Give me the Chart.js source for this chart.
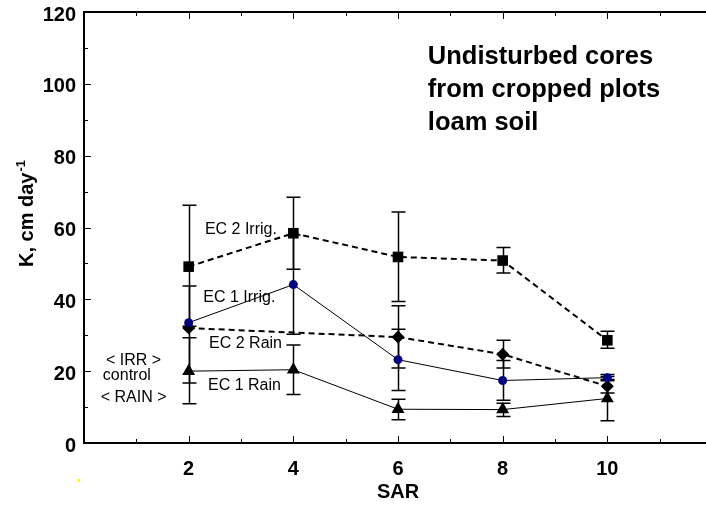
<!DOCTYPE html>
<html>
<head>
<meta charset="utf-8">
<script src="https://cdn.jsdelivr.net/npm/chart.js@4.4.1/dist/chart.umd.min.js"></script>
<style>
html,body{margin:0;padding:0;background:#fff;overflow:hidden;}
#wrap{width:720px;height:506px;}
</style>
</head>
<body>
<div id="wrap"><canvas id="c" width="720" height="506"></canvas></div>
<script>
// SAR values on the x axis
var sar = [2, 4, 6, 8, 10];

// K, cm/day  (mean, upper end of bar, lower end of bar)
var ec2Irrig   = [49.1, 58.4, 51.8, 50.8, 28.6];
var ec2IrrigHi = [66.2, 68.4, 64.3, 54.4, 31.1];
var ec2IrrigLo = [32.5, 48.4, 39.4, 47.3, 26.4];

var ec1Irrig   = [33.5, 44.1, 23.2, 17.4, 18.2];
var ec1IrrigHi = [43.7, 57.9, 31.7, 23.0, 19.1];
var ec1IrrigLo = [null, 30.3, 14.6, 11.9, 17.3];

var ec2Rain   = [32.0, null, 29.5, 24.7, 15.8];
var ec2RainHi = [null, null, 38.2, 28.6, 17.7];
var ec2RainLo = [16.7, null, 20.9, 20.9, 13.9];

var ec1Rain   = [20.0, 20.4, 9.4, 9.3, 12.4];
var ec1RainHi = [29.3, 27.3, 12.2, 11.1, 18.5];
var ec1RainLo = [10.9, 13.5, 6.5, 7.4, 6.2];

var xTicks = [2, 4, 6, 8, 10];

// text labels placed in data units
var notes = [
  {t: 'EC 2 Irrig.', x: 2.31, y: 59.5},
  {t: 'EC 1 Irrig.', x: 2.28, y: 40.5},
  {t: 'EC 2 Rain', x: 2.39, y: 27.8},
  {t: 'EC 1 Rain', x: 2.37, y: 15.9},
  {t: '< IRR >', x: 0.42, y: 23.0},
  {t: 'control', x: 0.36, y: 18.9},
  {t: '< RAIN >', x: 0.32, y: 12.7}
];
var boxText = ['Undisturbed cores', 'from cropped plots', 'loam soil'];
var boxY = [107.5, 98.4, 89.0];

function pts(v, hi, lo){
  return sar.map(function(x, i){ return {x: x, y: v[i], hi: hi[i], lo: lo[i]}; });
}

var errBars = {
  id: 'errBars',
  beforeDatasetsDraw: function(chart){
    var ctx = chart.ctx, xs = chart.scales.x, ys = chart.scales.y;
    ctx.save();
    ctx.strokeStyle = '#000';
    ctx.lineWidth = 1.5;
    chart.data.datasets.forEach(function(ds){
      ds.data.forEach(function(p){
        if (p.y == null) return;
        var px = Math.round(xs.getPixelForValue(p.x)) + 0.5;
        var y1 = ys.getPixelForValue(p.hi != null ? p.hi : p.y);
        var y2 = ys.getPixelForValue(p.lo != null ? p.lo : p.y);
        ctx.beginPath();
        ctx.moveTo(px, y1); ctx.lineTo(px, y2);
        if (p.hi != null) { ctx.moveTo(px - 7, y1); ctx.lineTo(px + 7, y1); }
        if (p.lo != null) { ctx.moveTo(px - 7, y2); ctx.lineTo(px + 7, y2); }
        ctx.stroke();
      });
    });
    ctx.restore();
  }
};

var frame = {
  id: 'frame',
  afterDraw: function(chart){
    var ctx = chart.ctx, a = chart.chartArea, xs = chart.scales.x, ys = chart.scales.y;
    ctx.save();
    ctx.strokeStyle = '#000';
    // top frame line
    ctx.lineWidth = 2;
    ctx.beginPath(); ctx.moveTo(a.left, a.top); ctx.lineTo(a.right + 10, a.top); ctx.stroke();
    // inward ticks
    ctx.lineWidth = 1;
    ctx.beginPath();
    for (var v = 0; v <= 120; v += 10) {
      var py = Math.round(ys.getPixelForValue(v)) + 0.5;
      var len = v % 20 == 0 ? 7 : 4;
      ctx.moveTo(a.left, py); ctx.lineTo(a.left + len, py);
    }
    for (var k = 1; k <= 12; k++) {
      var px = Math.round(xs.getPixelForValue(k)) + 0.5;
      var l2 = k % 2 == 0 ? 7 : 4;
      ctx.moveTo(px, a.bottom); ctx.lineTo(px, a.bottom - l2);
      ctx.moveTo(px, a.top); ctx.lineTo(px, a.top + l2);
    }
    ctx.stroke();

    // y axis title with superscript
    ctx.fillStyle = '#000';
    ctx.translate(33, 267);
    ctx.rotate(-Math.PI / 2);
    ctx.font = 'bold 20px "Liberation Sans", Arial, sans-serif';
    ctx.textBaseline = 'alphabetic';
    ctx.textAlign = 'left';
    ctx.fillText('K, cm day', 0, 0);
    var w = ctx.measureText('K, cm day').width;
    ctx.font = 'bold 13px "Liberation Sans", Arial, sans-serif';
    ctx.fillText('-1', w + 1, -8);
    ctx.setTransform(1, 0, 0, 1, 0, 0);

    // curve labels
    ctx.font = '16px "Liberation Sans", Arial, sans-serif';
    ctx.textBaseline = 'middle';
    notes.forEach(function(n){
      ctx.fillText(n.t, xs.getPixelForValue(n.x), ys.getPixelForValue(n.y));
    });
    ctx.font = 'bold 25.5px "Liberation Sans", Arial, sans-serif';
    boxText.forEach(function(t, i){
      ctx.fillText(t, xs.getPixelForValue(6.57), ys.getPixelForValue(boxY[i]));
    });

    // stray yellow speck
    ctx.fillStyle = '#ffff00';
    ctx.fillRect(77, 479, 3, 3);
    ctx.restore();
  }
};

var font20 = {family: '"Liberation Sans", Arial, sans-serif', size: 20, weight: 'bold'};

new Chart(document.getElementById('c'), {
  type: 'scatter',
  data: {
    datasets: [
      {label: 'EC 2 Irrig.', data: pts(ec2Irrig, ec2IrrigHi, ec2IrrigLo), showLine: true,
       borderColor: '#000', borderWidth: 2, borderDash: [6, 4],
       pointStyle: 'rect', pointRadius: 7.5, pointBackgroundColor: '#000', pointBorderColor: '#000', pointBorderWidth: 0},
      {label: 'EC 1 Irrig.', data: pts(ec1Irrig, ec1IrrigHi, ec1IrrigLo), showLine: true,
       borderColor: '#000', borderWidth: 1,
       pointStyle: 'circle', pointRadius: 4.5, pointBackgroundColor: '#00007f', pointBorderColor: '#00007f', pointBorderWidth: 0},
      {label: 'EC 2 Rain', data: pts(ec2Rain, ec2RainHi, ec2RainLo), showLine: true, spanGaps: true,
       borderColor: '#000', borderWidth: 2, borderDash: [6, 4],
       pointStyle: 'rectRot', pointRadius: 6.5, pointBackgroundColor: '#000', pointBorderColor: '#000', pointBorderWidth: 0},
      {label: 'EC 1 Rain', data: pts(ec1Rain, ec1RainHi, ec1RainLo), showLine: true,
       borderColor: '#000', borderWidth: 1,
       pointStyle: 'triangle', pointRadius: 7.5, pointBackgroundColor: '#000', pointBorderColor: '#000', pointBorderWidth: 0}
    ]
  },
  options: {
    responsive: false,
    animation: false,
    layout: {padding: {left: 0, top: 12, right: 8, bottom: 0}},
    plugins: {legend: {display: false}, tooltip: {enabled: false}},
    scales: {
      x: {
        type: 'linear', min: 0, max: 12,
        grid: {display: false, drawTicks: false},
        border: {display: true, color: '#000', width: 2},
        afterBuildTicks: function(s){ s.ticks = xTicks.map(function(v){ return {value: v}; }); },
        ticks: {color: '#000', font: font20, padding: 14, maxRotation: 0, autoSkip: false},
        title: {display: true, text: 'SAR', color: '#000', font: font20, padding: {top: 0, bottom: 2}},
        afterFit: function(s){ s.height = 63; s.paddingLeft = 0; s.paddingRight = 0; }
      },
      y: {
        min: 0, max: 120,
        grid: {display: false, drawTicks: false},
        border: {display: true, color: '#000', width: 2},
        ticks: {stepSize: 20, color: '#000', font: font20, padding: 8, labelOffset: 3},
        afterFit: function(s){ s.width = 84; s.paddingTop = 0; s.paddingBottom = 0; }
      }
    }
  },
  plugins: [errBars, frame]
});
</script>
</body>
</html>
